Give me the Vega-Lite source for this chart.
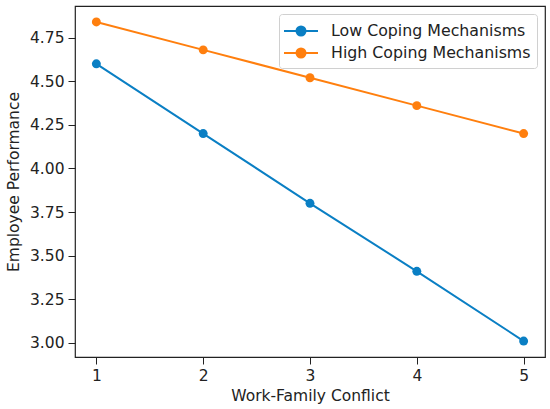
{
  "$schema": "https://vega.github.io/schema/vega-lite/v6.json",
  "width": 470,
  "height": 351,
  "autosize": "none",
  "padding": {"left": 75, "top": 6, "right": 5, "bottom": 52},
  "background": "white",
  "data": {
    "values": [
      {"conflict": 1, "performance": 4.60, "group": "Low Coping Mechanisms"},
      {"conflict": 2, "performance": 4.20, "group": "Low Coping Mechanisms"},
      {"conflict": 3, "performance": 3.80, "group": "Low Coping Mechanisms"},
      {"conflict": 4, "performance": 3.41, "group": "Low Coping Mechanisms"},
      {"conflict": 5, "performance": 3.01, "group": "Low Coping Mechanisms"},
      {"conflict": 1, "performance": 4.84, "group": "High Coping Mechanisms"},
      {"conflict": 2, "performance": 4.68, "group": "High Coping Mechanisms"},
      {"conflict": 3, "performance": 4.52, "group": "High Coping Mechanisms"},
      {"conflict": 4, "performance": 4.36, "group": "High Coping Mechanisms"},
      {"conflict": 5, "performance": 4.20, "group": "High Coping Mechanisms"}
    ]
  },
  "encoding": {
    "x": {
      "field": "conflict",
      "type": "quantitative",
      "title": "Work-Family Conflict",
      "scale": {"domain": [0.8, 5.2], "nice": false, "zero": false},
      "axis": {"values": [1, 2, 3, 4, 5], "format": "d", "grid": false}
    },
    "y": {
      "field": "performance",
      "type": "quantitative",
      "title": "Employee Performance",
      "scale": {"domain": [2.9185, 4.9315], "nice": false, "zero": false},
      "axis": {"values": [3.0, 3.25, 3.5, 3.75, 4.0, 4.25, 4.5, 4.75], "format": ".2f", "grid": false}
    },
    "color": {
      "field": "group",
      "type": "nominal",
      "scale": {
        "domain": ["Low Coping Mechanisms", "High Coping Mechanisms"],
        "range": ["#0a7fc4", "#ff7f0e"]
      },
      "legend": {
        "title": null,
        "orient": "none",
        "legendX": 204,
        "legendY": 8,
        "padding": 6,
        "fillColor": "white",
        "strokeColor": "#d0d0d0",
        "cornerRadius": 3,
        "labelFontSize": 15.8,
        "labelFont": "DejaVu Sans",
        "labelColor": "#222222",
        "labelLimit": 400,
        "rowPadding": 2,
        "labelOffset": 24,
        "symbolType": "M-1.2,0H2.2M0.95,0A0.45,0.45 0 1,1 0.05,0A0.45,0.45 0 1,1 0.95,0Z",
        "symbolSize": 400,
        "symbolStrokeWidth": 2,
        "encode": {
          "symbols": {
            "update": {
              "fill": {"scale": "color", "field": "value"},
              "stroke": {"scale": "color", "field": "value"},
              "fillOpacity": {"value": 1}
            }
          }
        }
      }
    }
  },
  "layer": [
    {"mark": {"type": "line", "strokeWidth": 2}},
    {"mark": {"type": "circle", "size": 80, "opacity": 1}}
  ],
  "config": {
    "view": {"stroke": "#222222", "strokeWidth": 1.2},
    "font": "DejaVu Sans",
    "axis": {
      "domain": false,
      "tickColor": "#222222",
      "tickSize": 7,
      "labelFontSize": 15.5,
      "labelColor": "#222222",
      "labelPadding": 4,
      "titleFontSize": 15.5,
      "titleFontWeight": "normal",
      "titleColor": "#222222"
    },
    "axisX": {"titlePadding": 5},
    "axisY": {"titlePadding": 8}
  }
}
